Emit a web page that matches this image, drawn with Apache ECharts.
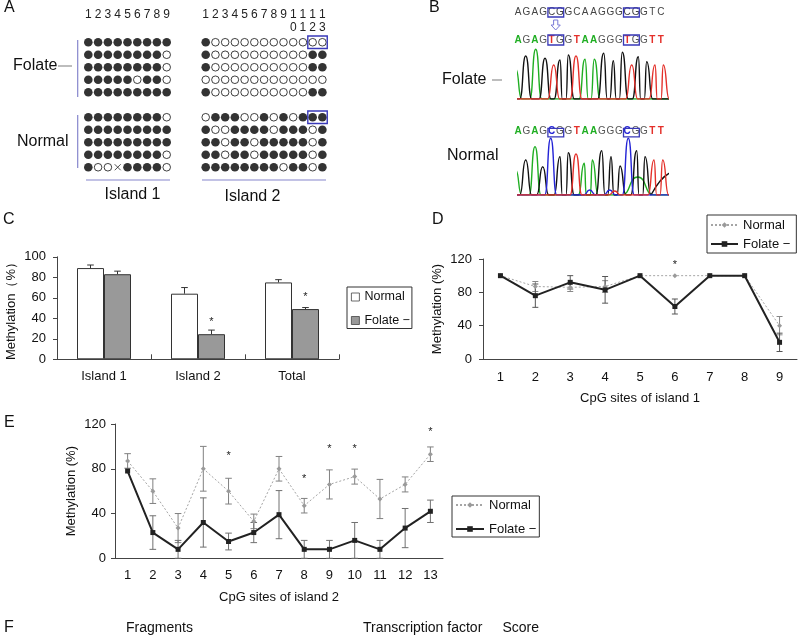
<!DOCTYPE html>
<html><head><meta charset="utf-8">
<script src="https://cdn.jsdelivr.net/npm/echarts@6/dist/echarts.min.js"></script>
<style>html,body{margin:0;padding:0;background:#fff}#c{width:800px;height:643px}</style>
</head><body><div id="c"></div>
<script>
// ================= DATA =================
// Panel A: bisulfite clone dots (1 = methylated, 0 = unmethylated, x = undetermined)
const island1Cols = ['1','2','3','4','5','6','7','8','9'];
const island2Cols = ['1','2','3','4','5','6','7','8','9','1\n0','1\n1','1\n2','1\n3'];
const island1Folate = ['111111111','111111110','111111110','111110110','111111111'];
const island1Normal = ['111111110','111111111','111111111','111111110','100x11110'];
const island2Folate = ['1000000000000','1000000000011','1000000000011','0000000000000','1000000000011'];
const island2Normal = ['0111001010111','1001111011101','1101101111101','1101101111101','1111111101101'];
const boxedCells = [[11, 12, 0], [11, 12, 6]]; // [fromCol, toCol, row] on island 2

// Panel B: sequences and chromatogram peaks [position, height, base, halfWidth?]
const seqReference = 'AGAGCGGCAAGGGCGGTC';
const seqFolate = 'AGAGTGGTAAGGGTGGTT';
const seqNormal = 'AGAGCGGTAAGGGCGGTT';
const traceFolate = [
  [-2,30,'A'],[8,43,'G'],[18,49.7,'A'],[27.3,40.7,'G'],[36,34,'T'],[42.3,39,'G'],[50.6,44,'G'],
  [58.3,43,'T'],[67.3,39.7,'A'],[76.6,39.7,'A'],[86,45.7,'G'],[95.6,38.3,'G'],[104.6,46.7,'G'],
  [114,34,'T'],[120.6,42.3,'G'],[129,37.3,'G'],[137.3,34,'T'],[145.6,34,'T']
];
const traceNormal = [
  [-2,25,'A'],[8,35,'G'],[17.3,48.3,'A'],[25,28.3,'G'],[33,56.7,'C'],[42.3,38.3,'G'],[50.6,42.3,'G'],
  [58.3,41,'T'],[66.6,31.7,'A'],[74.6,35,'A'],[84,44.3,'G'],[93.3,38.3,'G'],[102.3,29,'G'],
  [110.6,56.7,'C'],[119,44.3,'G'],[127.3,38.3,'G'],[136.3,35,'T'],[145,35,'T'],
  [120,18,'A',16],[160,24,'G',26],[72,5,'C',6],[92,5,'C',6],[97,4,'T',6]
];

// Panel C
const barCategories = ['Island 1','Island 2','Total'];
const barNormal = [89, 64, 75];
const barNormalErr = [3, 6, 2.7];
const barFolate = [83, 24.5, 49];
const barFolateErr = [3, 4, 1.5];
const barStars = [[1, 39], [2, 64]];

// Panel D
const sites1 = ['1','2','3','4','5','6','7','8','9'];
const dNormal = [100, 87, 86, 87, 100, 100, 100, 100, 40];
const dNormalErr = [0, 6, 5, 7, 0, 0, 0, 0, 11];
const dFolate = [100, 76, 92, 83, 100, 63, 100, 100, 20];
const dFolateErr = [0, 14, 8, 16, 0, 9, 0, 0, 11];
const dStars = [[5, 117]];

// Panel E
const sites2 = ['1','2','3','4','5','6','7','8','9','10','11','12','13'];
const eNormal = [87, 60, 27, 80, 60, 33, 80, 47, 66, 73, 53, 66, 93];
const eNormalErr = [6.5, 11, 13, 20, 11.5, 6.5, 11, 6.5, 13, 6.7, 17.5, 6.7, 6.5];
const eFolate = [78, 23, 8, 32, 15, 23, 39, 8, 8, 16, 8, 27, 42];
const eFolateErr = [0, 15, 8, 22, 7.5, 9, 21.5, 8, 8, 16, 8, 17.5, 10];
const eStars = [[4, 94], [7, 73.5], [8, 100], [9, 100], [12, 116]];

// ================= HELPERS =================
const FONT = 'Arial, "Liberation Sans", Helvetica, sans-serif';
const MINUS = '\u2212';

function dotData(folate, normal) {
  const out = [];
  const rows = folate.map((r, i) => [r, i]).concat(normal.map((r, i) => [r, i + 6]));
  rows.forEach(([r, ri]) => r.split('').forEach((ch, ci) => {
    if (ch === '1') out.push({value: [ci, ri], symbol: 'circle', symbolSize: 8.6, itemStyle: {color: '#000', borderWidth: 0}});
    else if (ch === '0') out.push({value: [ci, ri], symbol: 'circle', symbolSize: 7.6, itemStyle: {color: '#fff', borderColor: '#111', borderWidth: 1}});
    else out.push({value: [ci, ri], symbol: 'path://M0,0L10,10M10,0L0,10', symbolSize: 6, itemStyle: {color: 'none', borderColor: '#222', borderWidth: 1}});
  }));
  return out;
}

const baseColor = {A: '#1fae22', C: '#2424d6', G: '#111111', T: '#e4302a'};
function traceSeries(trace, xi, yi) {
  const groups = {};
  trace.forEach(([pos, h, base, w]) => {
    const hw = w || 6;
    (groups[base] = groups[base] || []).push([pos - hw, 0], [pos, h], [pos + hw, 0]);
  });
  return Object.keys(groups).map(b => ({
    type: 'line', xAxisIndex: xi, yAxisIndex: yi, symbol: 'none', showSymbol: false,
    smooth: 0.6, smoothMonotone: 'x', clip: true, silent: true, z: 2,
    lineStyle: {color: baseColor[b], width: 1.4}, itemStyle: {color: baseColor[b]},
    data: [[-20, 0]].concat(groups[b].sort((a, c) => a[0] - c[0])).concat([[190, 0]])
  }));
}

function errorBars(xi, yi, values, errs, o) {
  return {
    type: 'custom', xAxisIndex: xi, yAxisIndex: yi, silent: true, z: o.z || 3,
    encode: {x: 0, y: [1, 2]},
    data: values.map((v, i) => [i, o.plusOnly ? v : v - errs[i], v + errs[i], errs[i]]),
    renderItem(params, api) {
      if (!api.value(3)) return;
      const i = api.value(0);
      const p1 = api.coord([i, api.value(1)]), p2 = api.coord([i, api.value(2)]);
      const x = p1[0] + (o.offset || 0), cap = o.cap || 3;
      const st = {stroke: o.color, lineWidth: 1};
      const ch = [
        {type: 'line', shape: {x1: x, y1: p1[1], x2: x, y2: p2[1]}, style: st},
        {type: 'line', shape: {x1: x - cap, y1: p2[1], x2: x + cap, y2: p2[1]}, style: st}
      ];
      if (!o.plusOnly) ch.push({type: 'line', shape: {x1: x - cap, y1: p1[1], x2: x + cap, y2: p1[1]}, style: st});
      return {type: 'group', children: ch};
    }
  };
}

function stars(xi, yi, pts, offset) {
  return {
    type: 'custom', xAxisIndex: xi, yAxisIndex: yi, silent: true, z: 5,
    encode: {x: 0, y: 1}, data: pts,
    renderItem(params, api) {
      const p = api.coord([api.value(0), api.value(1)]);
      return {type: 'text', x: p[0] + (offset || 0), y: p[1] + 3,
        style: {text: '*', fontSize: 11, fontFamily: FONT, fill: '#222', align: 'center', verticalAlign: 'middle'}};
    }
  };
}

function cellBoxes(xi, yi, data) {
  return {
    type: 'custom', xAxisIndex: xi, yAxisIndex: yi, silent: true, z: 6,
    encode: {x: [0, 1], y: 2}, data: data,
    renderItem(params, api) {
      const a = api.coord([api.value(0), api.value(2)]);
      const b = api.coord([api.value(1), api.value(2)]);
      const s = api.size([1, 1]);
      return {type: 'rect', shape: {x: a[0] - s[0] / 2, y: a[1] - s[1] / 2, width: b[0] - a[0] + s[0], height: s[1]},
        style: {fill: 'none', stroke: '#3838b8', lineWidth: 1.4}};
    }
  };
}

// Graphic: texts for panel labels and sequences
const g = [];
function txt(text, x, y, size, opts) {
  g.push(Object.assign({type: 'text', x: x, y: y, silent: true,
    style: Object.assign({text: text, fontSize: size, fontFamily: FONT, fill: '#111', align: 'left', verticalAlign: 'middle'}, opts || {})}));
}
function ln(x1, y1, x2, y2, color, w) {
  g.push({type: 'line', silent: true, shape: {x1, y1, x2, y2}, style: {stroke: color, lineWidth: w || 1}});
}
function box(x, y, w, h) {
  g.push({type: 'rect', silent: true, shape: {x, y, width: w, height: h}, style: {fill: 'none', stroke: '#3838b8', lineWidth: 1.3}});
}
// panel letters
txt('A', 4, 8, 16); txt('B', 429, 8, 16); txt('C', 3, 220, 16); txt('D', 432, 220, 16);
txt('E', 4, 423, 16); txt('F', 4, 628, 16);
// panel A decorations
txt('Folate', 13, 66, 16); ln(58, 66, 72, 66, '#999', 1.3);
txt('Normal', 17, 142, 16);
ln(77.7, 40, 77.7, 97, '#8585cc', 1.2); ln(77.7, 115, 77.7, 168, '#8585cc', 1.2);
ln(86, 180, 170, 180, '#8585cc', 1.2); ln(202, 180, 326, 180, '#8585cc', 1.2);
txt('Island 1', 132.5, 195, 16, {align: 'center'}); txt('Island 2', 252.5, 197, 16, {align: 'center'});
// panel B sequences
const seqX0 = 518, seqStep = 8.4;
function seq(s, y, colored) {
  s.split('').forEach((ch, i) => {
    let fill = '#444', weight = 'normal';
    if (colored) {
      if (ch === 'A') { fill = baseColor.A; weight = 'bold'; }
      else if (ch === 'T') { fill = baseColor.T; weight = 'bold'; }
      else if (ch === 'C') { fill = baseColor.C; weight = 'bold'; }
      else fill = '#555';
    }
    txt(ch, seqX0 + i * seqStep, y, 10, {align: 'center', fill: fill, fontWeight: weight});
  });
}
seq(seqReference, 12.5, false); seq(seqFolate, 40, true); seq(seqNormal, 131.7, true);
[[8, 9], [35, 10], [128.3, 8.5]].forEach(([y, h]) => {
  box(seqX0 + 4 * seqStep - 3.7, y, seqStep + 7.4, h);
  box(seqX0 + 13 * seqStep - 3.7, y, seqStep + 7.4, h);
});
g.push({type: 'polygon', silent: true, shape: {points: [[553.6, 20], [557.8, 20], [557.8, 25], [560.3, 25], [555.7, 30], [551.1, 25], [553.6, 25]]},
  style: {fill: '#fff', stroke: '#7a7ad8', lineWidth: 1}});
txt('Folate', 442, 80, 16); ln(492, 80, 502, 80, '#999', 1.3);
txt('Normal', 447, 156, 16);
// panel F headers
txt('Fragments', 126, 628, 14); txt('Transcription factor', 363, 628, 14); txt('Score', 502.5, 628, 14);

// ================= OPTION =================
const axisLineStyle = {lineStyle: {color: '#444', width: 1}};
const tickLbl = {fontSize: 13, color: '#111', fontFamily: FONT};
const topNumLbl = {fontSize: 12, color: '#222', fontFamily: FONT, margin: 28, verticalAlign: 'top', lineHeight: 13, interval: 0};
const rows11 = ['0','1','2','3','4','5','6','7','8','9','10'];

const option = {
  animation: false,
  backgroundColor: '#fff',
  textStyle: {fontFamily: FONT},
  grid: [
    {left: 83.4, top: 36, width: 88.2, height: 137.5},
    {left: 200.85, top: 36, width: 126.4, height: 137.5},
    {left: 517.7, top: 45, width: 150, height: 54},
    {left: 517.7, top: 135, width: 150, height: 60},
    {left: 57, top: 256.8, width: 282, height: 102.5},
    {left: 483, top: 259, width: 314, height: 100},
    {left: 115, top: 424, width: 328, height: 134.3}
  ],
  xAxis: [
    {gridIndex: 0, type: 'category', data: island1Cols, position: 'top', axisLine: {show: false}, axisTick: {show: false}, axisLabel: topNumLbl},
    {gridIndex: 1, type: 'category', data: island2Cols, position: 'top', axisLine: {show: false}, axisTick: {show: false}, axisLabel: topNumLbl},
    {gridIndex: 2, type: 'value', min: 0, max: 150, show: false},
    {gridIndex: 3, type: 'value', min: 0, max: 150, show: false},
    {gridIndex: 4, type: 'category', data: barCategories, axisLine: axisLineStyle,
      axisTick: {show: true, inside: true, length: 5, lineStyle: {color: '#444'}}, axisLabel: Object.assign({margin: 11}, tickLbl)},
    {gridIndex: 5, type: 'category', data: sites1, axisLine: axisLineStyle, axisTick: {show: false},
      axisLabel: Object.assign({margin: 12}, tickLbl),
      name: 'CpG sites of island 1', nameLocation: 'middle', nameGap: 33, nameTextStyle: {fontSize: 13, color: '#111', fontFamily: FONT}},
    {gridIndex: 6, type: 'category', data: sites2, axisLine: axisLineStyle, axisTick: {show: false},
      axisLabel: Object.assign({margin: 11, interval: 0}, tickLbl),
      name: 'CpG sites of island 2', nameLocation: 'middle', nameGap: 33, nameTextStyle: {fontSize: 13, color: '#111', fontFamily: FONT}}
  ],
  yAxis: [
    {gridIndex: 0, type: 'category', data: rows11, inverse: true, show: false},
    {gridIndex: 1, type: 'category', data: rows11, inverse: true, show: false},
    {gridIndex: 2, type: 'value', min: 0, max: 54, show: false},
    {gridIndex: 3, type: 'value', min: 0, max: 60, show: false},
    {gridIndex: 4, type: 'value', min: 0, max: 100, interval: 20, splitLine: {show: false},
      axisLine: Object.assign({show: true}, axisLineStyle), axisTick: {show: true, length: 4, lineStyle: {color: '#444'}},
      axisLabel: Object.assign({margin: 11}, tickLbl),
      name: 'Methylation\uff08%\uff09', nameLocation: 'middle', nameGap: 39, nameTextStyle: {fontSize: 13, color: '#111', fontFamily: FONT}},
    {gridIndex: 5, type: 'value', min: 0, max: 120, interval: 40, splitLine: {show: false},
      axisLine: Object.assign({show: true}, axisLineStyle), axisTick: {show: true, length: 4, lineStyle: {color: '#444'}},
      axisLabel: Object.assign({margin: 11}, tickLbl),
      name: 'Methylation (%)', nameLocation: 'middle', nameGap: 39, nameTextStyle: {fontSize: 13, color: '#111', fontFamily: FONT}},
    {gridIndex: 6, type: 'value', min: 0, max: 120, interval: 40, splitLine: {show: false},
      axisLine: Object.assign({show: true}, axisLineStyle), axisTick: {show: true, length: 4, lineStyle: {color: '#444'}},
      axisLabel: Object.assign({margin: 9}, tickLbl),
      name: 'Methylation (%)', nameLocation: 'middle', nameGap: 37, nameTextStyle: {fontSize: 13, color: '#111', fontFamily: FONT}}
  ],
  legend: [
    {data: ['Normal|C', 'Folate ' + MINUS + '|C'], left: 347, top: 287, orient: 'vertical', icon: 'rect',
      itemWidth: 8, itemHeight: 8, itemGap: 9.5, padding: [3, 2, 1, 4], borderColor: '#333', borderWidth: 1,
      itemStyle: {borderWidth: 0.8, borderColor: '#444'},
      formatter: n => n.split('|')[0], textStyle: {fontSize: 12.5, color: '#111', fontFamily: FONT, lineHeight: 14}, selectedMode: false},
    {data: ['Normal|D', 'Folate ' + MINUS + '|D'], left: 707, top: 215, orient: 'vertical',
      itemWidth: 27, itemHeight: 7, itemGap: 5, padding: [3, 6, 2, 3], borderColor: '#333', borderWidth: 1,
      formatter: n => n.split('|')[0], textStyle: {fontSize: 13, color: '#111', fontFamily: FONT, lineHeight: 14}, selectedMode: false},
    {data: ['Normal|E', 'Folate ' + MINUS + '|E'], left: 452, top: 496, orient: 'vertical',
      itemWidth: 28, itemHeight: 7, itemGap: 10, padding: [2, 3, 1, 3], borderColor: '#333', borderWidth: 1,
      formatter: n => n.split('|')[0], textStyle: {fontSize: 13, color: '#111', fontFamily: FONT, lineHeight: 14}, selectedMode: false}
  ],
  graphic: g,
  series: [
    // Panel A
    {type: 'scatter', xAxisIndex: 0, yAxisIndex: 0, silent: true, data: dotData(island1Folate, island1Normal)},
    {type: 'scatter', xAxisIndex: 1, yAxisIndex: 1, silent: true, data: dotData(island2Folate, island2Normal)},
    cellBoxes(1, 1, boxedCells),
    // Panel B
    ...traceSeries(traceFolate, 2, 2),
    ...traceSeries(traceNormal, 3, 3),
    // Panel C
    {type: 'bar', name: 'Normal|C', xAxisIndex: 4, yAxisIndex: 4, data: barNormal, barWidth: 27, barGap: '0%',
      itemStyle: {color: '#fff', borderColor: '#333', borderWidth: 1}},
    {type: 'bar', name: 'Folate ' + MINUS + '|C', xAxisIndex: 4, yAxisIndex: 4, data: barFolate, barWidth: 27, barGap: '0%',
      itemStyle: {color: '#999', borderColor: '#333', borderWidth: 1}},
    errorBars(4, 4, barNormal, barNormalErr, {plusOnly: true, offset: -13.5, color: '#333', cap: 3.3}),
    errorBars(4, 4, barFolate, barFolateErr, {plusOnly: true, offset: 13.5, color: '#333', cap: 3.3}),
    stars(4, 4, barStars, 13.5),
    // Panel D
    errorBars(5, 5, dNormal, dNormalErr, {color: '#888', cap: 3}),
    errorBars(5, 5, dFolate, dFolateErr, {color: '#555', cap: 3}),
    {type: 'line', name: 'Normal|D', xAxisIndex: 5, yAxisIndex: 5, data: dNormal, symbol: 'diamond', symbolSize: 5,
      itemStyle: {color: '#9a9a9a'}, lineStyle: {color: '#a5a5a5', width: 1, type: [2, 2]}, z: 4},
    {type: 'line', name: 'Folate ' + MINUS + '|D', xAxisIndex: 5, yAxisIndex: 5, data: dFolate, symbol: 'rect', symbolSize: 5,
      itemStyle: {color: '#222'}, lineStyle: {color: '#222', width: 2}, z: 5},
    stars(5, 5, dStars, 0),
    // Panel E
    errorBars(6, 6, eNormal, eNormalErr, {color: '#808080', cap: 3.3}),
    errorBars(6, 6, eFolate, eFolateErr, {color: '#707070', cap: 3.3}),
    {type: 'line', name: 'Normal|E', xAxisIndex: 6, yAxisIndex: 6, data: eNormal, symbol: 'diamond', symbolSize: 5,
      itemStyle: {color: '#9a9a9a'}, lineStyle: {color: '#a5a5a5', width: 1, type: [2, 2]}, z: 4},
    {type: 'line', name: 'Folate ' + MINUS + '|E', xAxisIndex: 6, yAxisIndex: 6, data: eFolate, symbol: 'rect', symbolSize: 5,
      itemStyle: {color: '#222'}, lineStyle: {color: '#222', width: 2}, z: 5},
    stars(6, 6, eStars, 0)
  ]
};

const chart = echarts.init(document.getElementById('c'), null, {renderer: 'canvas', width: 800, height: 643});
chart.setOption(option);
</script>
</body></html>
